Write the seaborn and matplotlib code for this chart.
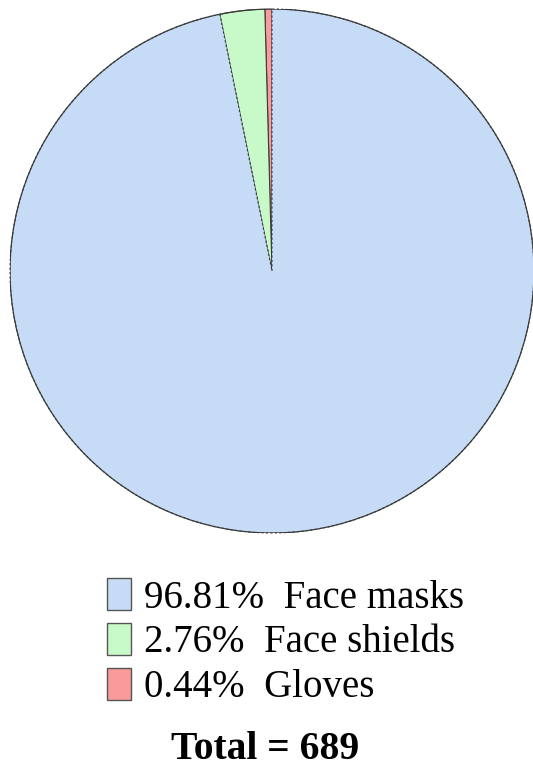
import matplotlib
matplotlib.use("Agg")
import matplotlib.pyplot as plt
import seaborn as sns
import numpy as np
from matplotlib.patches import Patch, Circle

sns.set_theme(style="white")
plt.rcParams["font.family"] = ["Liberation Serif", "DejaVu Serif"]

# PPE item counts (total 689)
categories = ["Face masks", "Face shields", "Gloves"]
counts = [667, 19, 3]
colors = ["#c6dbf6", "#c8f9c8", "#f99b9b"]
edge = "#3a3a3a"

total = sum(counts)
pct = [100 * c / total for c in counts]

fig = plt.figure(figsize=(5.33, 7.69), dpi=100)
ax = fig.add_axes([10 / 533, 236 / 769, 524 / 533, 524 / 769])

# draw smallest slice first so it sits just left of 12 o'clock
order = list(reversed(range(len(categories))))
wedges, _ = ax.pie([counts[i] for i in order],
                   colors=[colors[i] for i in order],
                   startangle=90, counterclock=True, radius=1,
                   wedgeprops=dict(edgecolor=edge, linewidth=0.8))
# the face-mask slice has a dashed radial border
for w, i in zip(wedges, order):
    if categories[i] == "Face masks":
        w.set_linestyle((0, (2, 2)))
ax.add_patch(Circle((0, 0), 1, fill=False, edgecolor=edge, linewidth=0.9, zorder=5))
ax.set_xlim(-1, 1)
ax.set_ylim(-1, 1)
ax.set_aspect("equal")
ax.axis("off")

handles = [Patch(facecolor=c, edgecolor="#555555", linewidth=1.0) for c in colors]
labels = [f"{p:.2f}%  {n}" for p, n in zip(pct, categories)]
fig.legend(handles, labels, loc="upper left", bbox_to_anchor=(107 / 533, 1 - 578 / 769),
           frameon=False, fontsize=28, handlelength=0.62, handleheight=0.9,
           handletextpad=0.33, labelspacing=0.16, borderpad=0, borderaxespad=0,
           labelcolor="black")

fig.text(265 / 533, 1 - 759 / 769, f"Total = {total}", ha="center", va="baseline",
         fontsize=28.5, fontweight="bold", color="black")

fig.savefig("out.png", dpi=100, facecolor="white")
